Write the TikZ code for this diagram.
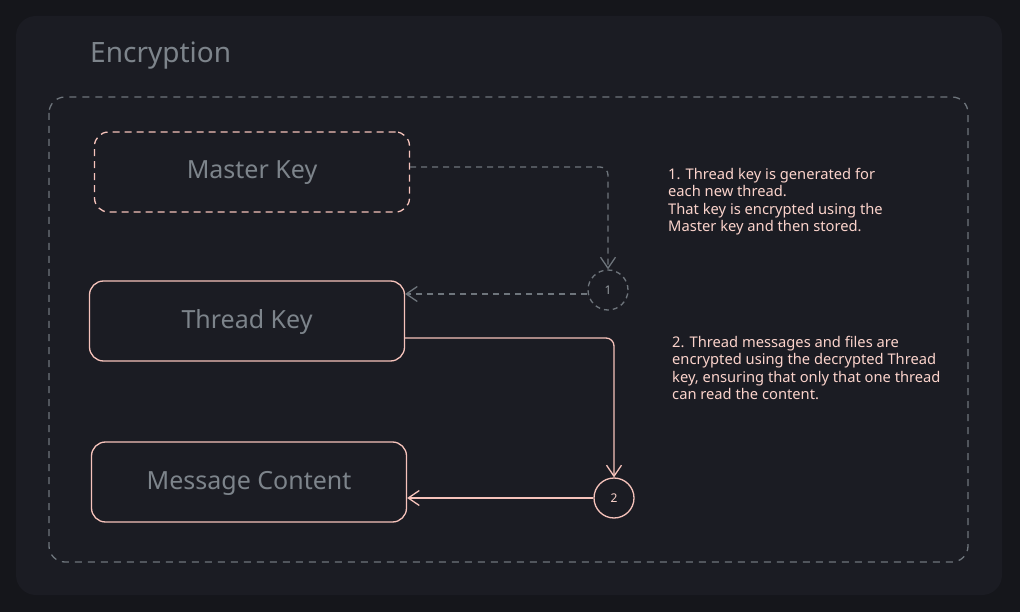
\documentclass[tikz,border=0pt]{standalone}
\usepackage{fontspec}
\setmainfont{Noto Sans}
\usetikzlibrary{arrows.meta,calc}
\definecolor{pagebg}{HTML}{15161B}
\definecolor{cardbg}{HTML}{1B1C23}
\definecolor{pinkline}{HTML}{F6C3BB}
\definecolor{pinktext}{HTML}{FBD3CB}
\definecolor{grayline}{HTML}{6E757C}
\definecolor{graytext}{HTML}{7D848B}
\tikzset{
  keybox/.style={draw=pinkline, line width=1.3pt, rounded corners=14pt,
    minimum width=315pt, minimum height=80pt, text=graytext,
    text height=17pt, text depth=3pt,
    font=\fontsize{25}{29}\selectfont},
  dashbox/.style={keybox, dash pattern=on 7pt off 5pt},
  stepcirc/.style={circle, minimum size=40pt, inner sep=0pt, font=\fontsize{12}{14}\selectfont},
  grayarrow/.style={draw=grayline, line width=1.3pt, dash pattern=on 6pt off 5pt,
    rounded corners=8pt, -{Straight Barb[length=11pt,width=15pt,line width=1.3pt]}},
  pinkarrow/.style={draw=pinkline, line width=1.3pt, rounded corners=8pt,
    -{Straight Barb[length=11pt,width=15pt,line width=1.3pt]}},
  notetext/.style={text=pinktext, align=left, inner sep=0pt, anchor=north west,
    font=\fontsize{14.7}{17.5}\selectfont}
}
\begin{document}
\begin{tikzpicture}[x=1pt,y=-1pt]
\useasboundingbox (0,0) rectangle (1020,612);
\fill[pagebg] (0,0) rectangle (1020,612);
\fill[cardbg, rounded corners=20pt] (16,16) rectangle (1002,595);
\node[text=graytext, font=\fontsize{28}{32}\selectfont, anchor=base west, inner sep=0pt] (title) at (90,63) {Encryption};
\draw[grayline, line width=1.3pt, dash pattern=on 7pt off 6pt, rounded corners=16pt] (49,97) rectangle (968,562);
\node[dashbox] (mk) at (252,172) {Master Key};
\node[keybox] (tk) at (247,321) {Thread Key};
\node[keybox] (mc) at (249,482) {Message Content};
\node[stepcirc, draw=grayline, line width=1.3pt, dash pattern=on 5pt off 4pt, text=graytext!80!white] (c1) at (608,290) {1};
\node[stepcirc, draw=pinkline, line width=1.3pt, text=pinktext] (c2) at (614,498) {2};
\coordinate (g0) at ($(mk.east)+(0,-5)$);
\coordinate (g1) at ($(c1.west)+(0,4)$);
\coordinate (p0) at ($(tk.east)+(0,17)$);
\draw[grayarrow] (g0) -| (c1.north);
\draw[grayarrow] (g1) -- (g1 -| tk.east);
\draw[pinkarrow] (p0) -| (c2.north);
\draw[pinkarrow] (c2.west) -- (c2.west -| mc.east);
\node[notetext] (n1) at (668,168) {1. Thread key is generated for\\each new thread.\\That key is encrypted using the\\Master key and then stored.};
\node[notetext] (n2) at (672,336) {2. Thread messages and files are\\encrypted using the decrypted Thread\\key, ensuring that only that one thread\\can read the content.};
\end{tikzpicture}
\end{document}
